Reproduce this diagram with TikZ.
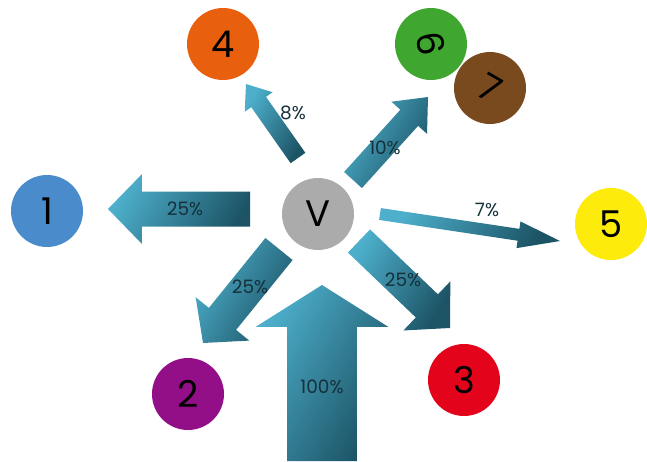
\documentclass[tikz,border=0pt]{standalone}
\usepackage{fontspec}
\setmainfont{Poppins}
\usetikzlibrary{calc}

\definecolor{flowlight}{HTML}{4DAFCB}
\definecolor{flowdark}{HTML}{1C5365}
\definecolor{pcttext}{HTML}{15303A}
\definecolor{cone}{HTML}{4A8BCB}
\definecolor{ctwo}{HTML}{930F87}
\definecolor{cthree}{HTML}{E3041B}
\definecolor{cfour}{HTML}{E8600E}
\definecolor{cfive}{HTML}{FDEB0B}
\definecolor{csix}{HTML}{3FA72F}
\definecolor{cseven}{HTML}{7A4A1F}
\definecolor{cv}{HTML}{ABABAB}

% block arrow: tail, tip, half shaft, half head, head length
\newcommand{\flowarrow}[5]{%
  \coordinate (fab) at ($(#2)!#5!(#1)$);
  \path[flow] ($(#1)!#3!90:(#2)$) -- ($(fab)!#3!90:(#2)$) -- ($(fab)!#4!90:(#2)$)
    -- (#2) -- ($(fab)!#4!-90:(#2)$) -- ($(fab)!#3!-90:(#2)$) -- ($(#1)!#3!-90:(#2)$) -- cycle;
}

\begin{document}
\begin{tikzpicture}[x=0.02cm,y=-0.02cm,
    bubble/.style={circle,minimum size=1.44cm,inner sep=0pt,font=\fontsize{21}{21}\selectfont},
    flow/.style={left color=flowlight,right color=flowdark,shading angle=60},
    pct/.style={text=pcttext,inner sep=1pt,font=\fontsize{10.5}{12}\selectfont}]
  \useasboundingbox (0,0) rectangle (647,461);

  % arrow ends
  \coordinate (a1s) at (250,209); \coordinate (a1e) at (108,209);
  \coordinate (a4s) at (298,158); \coordinate (a4e) at (246,84);
  \coordinate (a6s) at (353,180); \coordinate (a6e) at (428,97);
  \coordinate (a5s) at (380,214); \coordinate (a5e) at (560,241);
  \coordinate (a2s) at (279,249); \coordinate (a2e) at (203,343);
  \coordinate (a3s) at (359,241); \coordinate (a3e) at (450,328);
  \coordinate (a0s) at (322,461); \coordinate (a0e) at (322,285);

  \flowarrow{a1s}{a1e}{0.35cm}{0.70cm}{0.68cm}
  \flowarrow{a4s}{a4e}{0.18cm}{0.34cm}{0.44cm}
  \flowarrow{a6s}{a6e}{0.24cm}{0.48cm}{0.56cm}
  \flowarrow{a5s}{a5e}{0.12cm}{0.27cm}{0.84cm}
  \flowarrow{a2s}{a2e}{0.35cm}{0.69cm}{0.62cm}
  \flowarrow{a3s}{a3e}{0.32cm}{0.68cm}{0.64cm}
  \flowarrow{a0s}{a0e}{0.70cm}{1.33cm}{0.84cm}

  % circles
  \node[bubble,fill=cfour] (n4) at (223,44) {4};
  \node[bubble,fill=csix,rotate=-80] (n6) at (431,44) {6};
  \node[bubble,fill=cseven,rotate=-30] (n7) at (490,88) {7};
  \node[bubble,fill=cone] (n1) at (47,211) {1};
  \node[bubble,fill=cv] (nv) at (318,214) {V};
  \node[bubble,fill=cfive] (n5) at (611,224) {5};
  \node[bubble,fill=ctwo] (n2) at (188,394) {2};
  \node[bubble,fill=cthree] (n3) at (464,380) {3};

  % labels
  \node[pct] (p1) at (185,209) {25\%};
  \node[pct] (p4) at (293,113) {8\%};
  \node[pct] (p6) at (385,148) {10\%};
  \node[pct] (p5) at (487,210) {7\%};
  \node[pct] (p2) at (250,287) {25\%};
  \node[pct] (p3) at (403,280) {25\%};
  \node[pct] (p0) at (322,387) {100\%};
\end{tikzpicture}
\end{document}
